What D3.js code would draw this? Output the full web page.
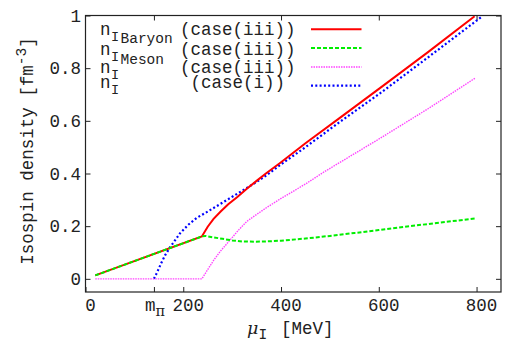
<!DOCTYPE html>
<html><head><meta charset="utf-8">
<script src="https://cdn.jsdelivr.net/npm/d3@7/dist/d3.min.js"></script>
<style>
body{margin:0;background:#fff;}
svg text{font-family:"Courier New","Liberation Mono",Courier,"Nimbus Mono PS",FreeMono,monospace;fill:#222;}
</style></head>
<body><svg id="c" width="508" height="344"></svg>
<script>
// ---- data ----
const muRed = [20, 238, 250, 262, 276, 292, 310, 330, 350, 369, 398, 450, 521, 603, 700, 796];
const nRed  = [0.013, 0.161, 0.198, 0.228, 0.255, 0.283, 0.31, 0.342, 0.372, 0.4, 0.44, 0.515, 0.612, 0.725, 0.86, 0.997];

const muGreen = [20, 238, 245, 260, 280, 300, 320, 345, 370, 400, 450, 500, 550, 600, 650, 700, 750, 797];
const nGreen  = [0.013, 0.161, 0.163, 0.158, 0.152, 0.146, 0.142, 0.141, 0.142, 0.145, 0.153, 0.163, 0.174, 0.185, 0.197, 0.208, 0.219, 0.229];

const muMag = [20, 238, 250, 262, 276, 296, 313, 330, 345, 370, 398, 450, 488, 550, 603, 700, 797];
const nMag  = [0, 0, 0.035, 0.07, 0.105, 0.148, 0.185, 0.218, 0.238, 0.27, 0.303, 0.36, 0.406, 0.475, 0.534, 0.645, 0.762];

const muBlue = [140, 144, 149, 155, 163, 173, 193, 210, 227, 245, 262, 280, 296, 313, 330, 350, 370, 398, 450, 521, 603, 700, 811];
const nBlue  = [0, 0.015, 0.035, 0.06, 0.09, 0.12, 0.172, 0.205, 0.231, 0.25, 0.269, 0.289, 0.307, 0.326, 0.345, 0.368, 0.393, 0.432, 0.5, 0.597, 0.705, 0.84, 0.996];

const xTicks = [0, 140, 200, 400, 600, 800];
const xTickLabels = ["0", "m_π", "200", "400", "600", "800"];
const xTopTicks = [140, 400, 600, 800];
const yTicks = [0, 0.2, 0.4, 0.6, 0.8, 1];
const yTickLabels = ["0", "0.2", "0.4", "0.6", "0.8", "1"];

const legendMain = ["n", "n", "n", "n"];
const legendSub = ["I", "I", "I", "I"];
const legendSubSub = ["Baryon", "Meson", "", ""];
const legendCase = ["(case(iii))", "(case(iii))", "(case(iii))", "(case(i))"];

// ---- layout ----
const L = 85.5, R = 501, T = 15.5, B = 292;
const svg = d3.select("#c");
const x = d3.scaleLinear().domain([0, 850]).range([L, R]);
const y = d3.scaleLinear().domain([-0.05, 1]).range([B, T]);

svg.append("defs").append("clipPath").attr("id","clip")
  .append("rect").attr("x",L).attr("y",T).attr("width",R-L).attr("height",B-T);

const FS = 17.5, SFS = 14.5;
// axes (ticks inward, mirrored)
const axStyle = g => { g.selectAll("path").remove(); g.selectAll("line").attr("stroke","#222").attr("stroke-width",1); };
svg.append("g").attr("transform",`translate(0,${B})`)
  .call(d3.axisBottom(x).tickValues(xTicks).tickSize(-5).tickFormat("")).call(axStyle);
svg.append("g").attr("transform",`translate(0,${T})`)
  .call(d3.axisTop(x).tickValues(xTopTicks).tickSize(-5).tickFormat("")).call(axStyle);
svg.append("g").attr("transform",`translate(${L},0)`)
  .call(d3.axisLeft(y).tickValues(yTicks).tickSize(-5).tickPadding(4.5)
    .tickFormat((d,i)=>yTickLabels[i])).call(axStyle)
  .selectAll("text").attr("font-size",FS).attr("font-family",null).attr("fill","#222");
svg.append("g").attr("transform",`translate(${R},0)`)
  .call(d3.axisRight(y).tickValues(yTicks).tickSize(-5).tickFormat("")).call(axStyle);

// x tick labels
xTicks.forEach((v,i)=>{
  const lab = xTickLabels[i];
  const t = svg.append("text").attr("y",311).attr("font-size",FS).attr("text-anchor","middle");
  if (lab.includes("_")) {
    const [a,b] = lab.split("_");
    t.attr("x", x(v)+1);
    t.append("tspan").text(a);
    t.append("tspan").attr("dy",5).attr("font-size",SFS).attr("font-family","DejaVu Serif").text(b);
  } else {
    t.attr("x", x(v)+5).text(lab);
  }
});

// border
svg.append("rect").attr("x",L).attr("y",T).attr("width",R-L).attr("height",B-T)
  .attr("fill","none").attr("stroke","#222").attr("stroke-width",1.2);

// lines
const series = [
  {mu:muRed, n:nRed, color:"#ff0000", w:2, dash:null},
  {mu:muGreen, n:nGreen, color:"#00ee00", w:2, dash:"4,2"},
  {mu:muMag, n:nMag, color:"#ff44ff", w:1.4, dash:"1.5,1"},
  {mu:muBlue, n:nBlue, color:"#0000ff", w:2.2, dash:"2,2.3"}
];
const line = d3.line().x(d=>x(d[0])).y(d=>y(d[1]));
const plotG = svg.append("g").attr("clip-path","url(#clip)");
[3,2,0,1].forEach(k=>{
  const s = series[k];
  plotG.append("path").datum(s.mu.map((m,i)=>[m,s.n[i]]))
    .attr("d",line).attr("fill","none").attr("stroke",s.color)
    .attr("stroke-width",s.w).attr("stroke-dasharray",s.dash);
});

// legend
const rowBase = [34.5, 54.5, 73, 87.5];
const rowLine = [29.3, 48, 67, 85.7];
const subBase = [40.5, 60.5, 79, 93.5];
const subsubBase = [43, 64, 0, 0];
rowBase.forEach((b,i)=>{
  svg.append("text").attr("x",100).attr("y",b).attr("font-size",FS).text(legendMain[i]);
  svg.append("text").attr("x",111).attr("y",subBase[i]).attr("font-size",SFS - 1).text(legendSub[i]);
  if (legendSubSub[i]) svg.append("text").attr("x",120.5).attr("y",subsubBase[i]).attr("font-size",SFS).text(legendSubSub[i]);
  svg.append("text").attr("x", i===3 ? 190.5 : 180).attr("y",b).attr("font-size",FS).text(legendCase[i]);
  const s = series[i];
  svg.append("line").attr("x1",311).attr("x2",361.5).attr("y1",rowLine[i]).attr("y2",rowLine[i])
    .attr("stroke",s.color).attr("stroke-width",s.w).attr("stroke-dasharray",s.dash);
});

// axis titles
const yl = svg.append("text").attr("transform","translate(33,151) rotate(-90)")
  .attr("text-anchor","middle").attr("font-size",FS);
yl.append("tspan").text("Isospin density [fm");
yl.append("tspan").attr("dy",-7).attr("font-size",SFS).text("-3");
yl.append("tspan").attr("dy",7).text("]");

const xl = svg.append("text").attr("x",247).attr("y",334).attr("font-size",FS);
xl.append("tspan").attr("font-family","DejaVu Serif").attr("font-style","italic").text("μ");
xl.append("tspan").attr("dy",5).attr("font-size",SFS).text("I");
xl.append("tspan").attr("dy",-5).attr("dx",14).text("[MeV]");
</script></body></html>
